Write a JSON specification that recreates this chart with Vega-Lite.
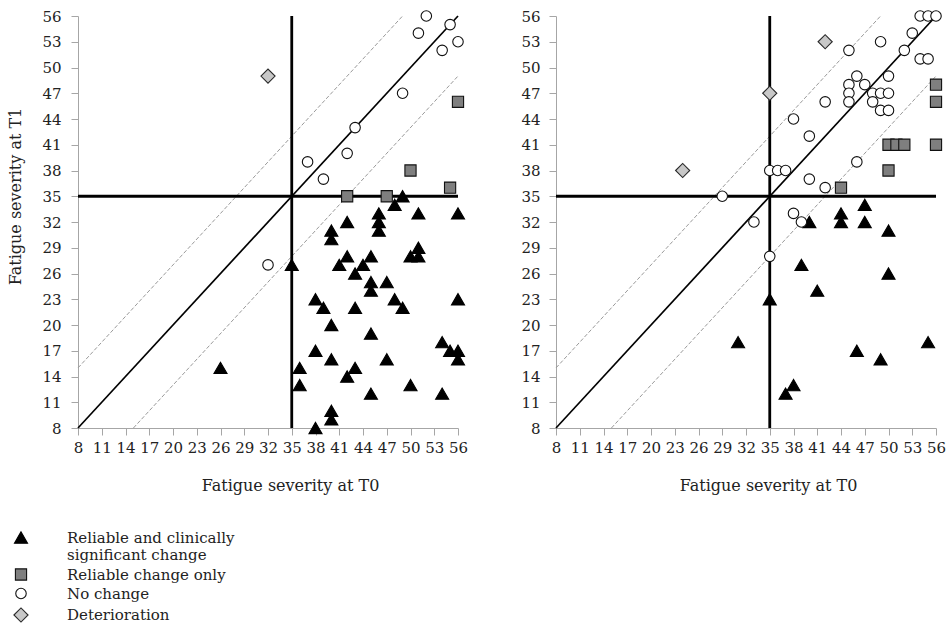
{
  "$schema": "https://vega.github.io/schema/vega-lite/v6.json",
  "background": "white",
  "padding": {"left": 7, "top": 8, "right": 8, "bottom": 4},
  "bounds": "flush",
  "spacing": 98,
  "datasets": {
    "guides": [
      {"guide": "band", "x": 8, "y": 15, "x2": 49, "y2": 56},
      {"guide": "band", "x": 15, "y": 8, "x2": 56, "y2": 49},
      {"guide": "identity", "x": 8, "y": 8, "x2": 56, "y2": 56},
      {"guide": "cutoff", "x": 35, "y": 8, "x2": 35, "y2": 56},
      {"guide": "cutoff", "x": 8, "y": 35, "x2": 56, "y2": 35}
    ],
    "scores": [
      {"cohort": "A", "t0": 26, "t1": 15, "outcome": "Reliable and clinically significant change"},
      {"cohort": "A", "t0": 35, "t1": 27, "outcome": "Reliable and clinically significant change"},
      {"cohort": "A", "t0": 36, "t1": 15, "outcome": "Reliable and clinically significant change"},
      {"cohort": "A", "t0": 36, "t1": 13, "outcome": "Reliable and clinically significant change"},
      {"cohort": "A", "t0": 38, "t1": 23, "outcome": "Reliable and clinically significant change"},
      {"cohort": "A", "t0": 38, "t1": 17, "outcome": "Reliable and clinically significant change"},
      {"cohort": "A", "t0": 38, "t1": 8, "outcome": "Reliable and clinically significant change"},
      {"cohort": "A", "t0": 39, "t1": 22, "outcome": "Reliable and clinically significant change"},
      {"cohort": "A", "t0": 40, "t1": 31, "outcome": "Reliable and clinically significant change"},
      {"cohort": "A", "t0": 40, "t1": 30, "outcome": "Reliable and clinically significant change"},
      {"cohort": "A", "t0": 40, "t1": 20, "outcome": "Reliable and clinically significant change"},
      {"cohort": "A", "t0": 40, "t1": 16, "outcome": "Reliable and clinically significant change"},
      {"cohort": "A", "t0": 40, "t1": 10, "outcome": "Reliable and clinically significant change"},
      {"cohort": "A", "t0": 40, "t1": 9, "outcome": "Reliable and clinically significant change"},
      {"cohort": "A", "t0": 41, "t1": 27, "outcome": "Reliable and clinically significant change"},
      {"cohort": "A", "t0": 42, "t1": 32, "outcome": "Reliable and clinically significant change"},
      {"cohort": "A", "t0": 42, "t1": 28, "outcome": "Reliable and clinically significant change"},
      {"cohort": "A", "t0": 42, "t1": 14, "outcome": "Reliable and clinically significant change"},
      {"cohort": "A", "t0": 43, "t1": 26, "outcome": "Reliable and clinically significant change"},
      {"cohort": "A", "t0": 43, "t1": 22, "outcome": "Reliable and clinically significant change"},
      {"cohort": "A", "t0": 43, "t1": 15, "outcome": "Reliable and clinically significant change"},
      {"cohort": "A", "t0": 44, "t1": 27, "outcome": "Reliable and clinically significant change"},
      {"cohort": "A", "t0": 45, "t1": 28, "outcome": "Reliable and clinically significant change"},
      {"cohort": "A", "t0": 45, "t1": 25, "outcome": "Reliable and clinically significant change"},
      {"cohort": "A", "t0": 45, "t1": 24, "outcome": "Reliable and clinically significant change"},
      {"cohort": "A", "t0": 45, "t1": 19, "outcome": "Reliable and clinically significant change"},
      {"cohort": "A", "t0": 45, "t1": 12, "outcome": "Reliable and clinically significant change"},
      {"cohort": "A", "t0": 46, "t1": 33, "outcome": "Reliable and clinically significant change"},
      {"cohort": "A", "t0": 46, "t1": 32, "outcome": "Reliable and clinically significant change"},
      {"cohort": "A", "t0": 46, "t1": 31, "outcome": "Reliable and clinically significant change"},
      {"cohort": "A", "t0": 47, "t1": 25, "outcome": "Reliable and clinically significant change"},
      {"cohort": "A", "t0": 47, "t1": 16, "outcome": "Reliable and clinically significant change"},
      {"cohort": "A", "t0": 48, "t1": 34, "outcome": "Reliable and clinically significant change"},
      {"cohort": "A", "t0": 48, "t1": 23, "outcome": "Reliable and clinically significant change"},
      {"cohort": "A", "t0": 49, "t1": 35, "outcome": "Reliable and clinically significant change"},
      {"cohort": "A", "t0": 49, "t1": 22, "outcome": "Reliable and clinically significant change"},
      {"cohort": "A", "t0": 50, "t1": 28, "outcome": "Reliable and clinically significant change"},
      {"cohort": "A", "t0": 50, "t1": 13, "outcome": "Reliable and clinically significant change"},
      {"cohort": "A", "t0": 51, "t1": 33, "outcome": "Reliable and clinically significant change"},
      {"cohort": "A", "t0": 51, "t1": 29, "outcome": "Reliable and clinically significant change"},
      {"cohort": "A", "t0": 51, "t1": 28, "outcome": "Reliable and clinically significant change"},
      {"cohort": "A", "t0": 54, "t1": 18, "outcome": "Reliable and clinically significant change"},
      {"cohort": "A", "t0": 54, "t1": 12, "outcome": "Reliable and clinically significant change"},
      {"cohort": "A", "t0": 55, "t1": 17, "outcome": "Reliable and clinically significant change"},
      {"cohort": "A", "t0": 56, "t1": 33, "outcome": "Reliable and clinically significant change"},
      {"cohort": "A", "t0": 56, "t1": 23, "outcome": "Reliable and clinically significant change"},
      {"cohort": "A", "t0": 56, "t1": 17, "outcome": "Reliable and clinically significant change"},
      {"cohort": "A", "t0": 56, "t1": 16, "outcome": "Reliable and clinically significant change"},
      {"cohort": "A", "t0": 42, "t1": 35, "outcome": "Reliable change only"},
      {"cohort": "A", "t0": 47, "t1": 35, "outcome": "Reliable change only"},
      {"cohort": "A", "t0": 50, "t1": 38, "outcome": "Reliable change only"},
      {"cohort": "A", "t0": 55, "t1": 36, "outcome": "Reliable change only"},
      {"cohort": "A", "t0": 56, "t1": 46, "outcome": "Reliable change only"},
      {"cohort": "A", "t0": 52, "t1": 56, "outcome": "No change"},
      {"cohort": "A", "t0": 51, "t1": 54, "outcome": "No change"},
      {"cohort": "A", "t0": 55, "t1": 55, "outcome": "No change"},
      {"cohort": "A", "t0": 56, "t1": 53, "outcome": "No change"},
      {"cohort": "A", "t0": 54, "t1": 52, "outcome": "No change"},
      {"cohort": "A", "t0": 49, "t1": 47, "outcome": "No change"},
      {"cohort": "A", "t0": 43, "t1": 43, "outcome": "No change"},
      {"cohort": "A", "t0": 42, "t1": 40, "outcome": "No change"},
      {"cohort": "A", "t0": 37, "t1": 39, "outcome": "No change"},
      {"cohort": "A", "t0": 39, "t1": 37, "outcome": "No change"},
      {"cohort": "A", "t0": 32, "t1": 27, "outcome": "No change"},
      {"cohort": "A", "t0": 32, "t1": 49, "outcome": "Deterioration"},
      {"cohort": "B", "t0": 47, "t1": 34, "outcome": "Reliable and clinically significant change"},
      {"cohort": "B", "t0": 44, "t1": 33, "outcome": "Reliable and clinically significant change"},
      {"cohort": "B", "t0": 44, "t1": 32, "outcome": "Reliable and clinically significant change"},
      {"cohort": "B", "t0": 40, "t1": 32, "outcome": "Reliable and clinically significant change"},
      {"cohort": "B", "t0": 47, "t1": 32, "outcome": "Reliable and clinically significant change"},
      {"cohort": "B", "t0": 50, "t1": 31, "outcome": "Reliable and clinically significant change"},
      {"cohort": "B", "t0": 39, "t1": 27, "outcome": "Reliable and clinically significant change"},
      {"cohort": "B", "t0": 50, "t1": 26, "outcome": "Reliable and clinically significant change"},
      {"cohort": "B", "t0": 41, "t1": 24, "outcome": "Reliable and clinically significant change"},
      {"cohort": "B", "t0": 35, "t1": 23, "outcome": "Reliable and clinically significant change"},
      {"cohort": "B", "t0": 31, "t1": 18, "outcome": "Reliable and clinically significant change"},
      {"cohort": "B", "t0": 46, "t1": 17, "outcome": "Reliable and clinically significant change"},
      {"cohort": "B", "t0": 49, "t1": 16, "outcome": "Reliable and clinically significant change"},
      {"cohort": "B", "t0": 55, "t1": 18, "outcome": "Reliable and clinically significant change"},
      {"cohort": "B", "t0": 38, "t1": 13, "outcome": "Reliable and clinically significant change"},
      {"cohort": "B", "t0": 37, "t1": 12, "outcome": "Reliable and clinically significant change"},
      {"cohort": "B", "t0": 56, "t1": 48, "outcome": "Reliable change only"},
      {"cohort": "B", "t0": 56, "t1": 46, "outcome": "Reliable change only"},
      {"cohort": "B", "t0": 50, "t1": 41, "outcome": "Reliable change only"},
      {"cohort": "B", "t0": 51, "t1": 41, "outcome": "Reliable change only"},
      {"cohort": "B", "t0": 52, "t1": 41, "outcome": "Reliable change only"},
      {"cohort": "B", "t0": 56, "t1": 41, "outcome": "Reliable change only"},
      {"cohort": "B", "t0": 50, "t1": 38, "outcome": "Reliable change only"},
      {"cohort": "B", "t0": 44, "t1": 36, "outcome": "Reliable change only"},
      {"cohort": "B", "t0": 54, "t1": 56, "outcome": "No change"},
      {"cohort": "B", "t0": 55, "t1": 56, "outcome": "No change"},
      {"cohort": "B", "t0": 56, "t1": 56, "outcome": "No change"},
      {"cohort": "B", "t0": 53, "t1": 54, "outcome": "No change"},
      {"cohort": "B", "t0": 49, "t1": 53, "outcome": "No change"},
      {"cohort": "B", "t0": 52, "t1": 52, "outcome": "No change"},
      {"cohort": "B", "t0": 45, "t1": 52, "outcome": "No change"},
      {"cohort": "B", "t0": 54, "t1": 51, "outcome": "No change"},
      {"cohort": "B", "t0": 55, "t1": 51, "outcome": "No change"},
      {"cohort": "B", "t0": 50, "t1": 49, "outcome": "No change"},
      {"cohort": "B", "t0": 46, "t1": 49, "outcome": "No change"},
      {"cohort": "B", "t0": 45, "t1": 48, "outcome": "No change"},
      {"cohort": "B", "t0": 47, "t1": 48, "outcome": "No change"},
      {"cohort": "B", "t0": 45, "t1": 47, "outcome": "No change"},
      {"cohort": "B", "t0": 48, "t1": 47, "outcome": "No change"},
      {"cohort": "B", "t0": 49, "t1": 47, "outcome": "No change"},
      {"cohort": "B", "t0": 50, "t1": 47, "outcome": "No change"},
      {"cohort": "B", "t0": 45, "t1": 46, "outcome": "No change"},
      {"cohort": "B", "t0": 48, "t1": 46, "outcome": "No change"},
      {"cohort": "B", "t0": 49, "t1": 45, "outcome": "No change"},
      {"cohort": "B", "t0": 50, "t1": 45, "outcome": "No change"},
      {"cohort": "B", "t0": 42, "t1": 46, "outcome": "No change"},
      {"cohort": "B", "t0": 38, "t1": 44, "outcome": "No change"},
      {"cohort": "B", "t0": 40, "t1": 42, "outcome": "No change"},
      {"cohort": "B", "t0": 46, "t1": 39, "outcome": "No change"},
      {"cohort": "B", "t0": 35, "t1": 38, "outcome": "No change"},
      {"cohort": "B", "t0": 36, "t1": 38, "outcome": "No change"},
      {"cohort": "B", "t0": 37, "t1": 38, "outcome": "No change"},
      {"cohort": "B", "t0": 40, "t1": 37, "outcome": "No change"},
      {"cohort": "B", "t0": 42, "t1": 36, "outcome": "No change"},
      {"cohort": "B", "t0": 29, "t1": 35, "outcome": "No change"},
      {"cohort": "B", "t0": 38, "t1": 33, "outcome": "No change"},
      {"cohort": "B", "t0": 33, "t1": 32, "outcome": "No change"},
      {"cohort": "B", "t0": 39, "t1": 32, "outcome": "No change"},
      {"cohort": "B", "t0": 35, "t1": 28, "outcome": "No change"},
      {"cohort": "B", "t0": 24, "t1": 38, "outcome": "Deterioration"},
      {"cohort": "B", "t0": 35, "t1": 47, "outcome": "Deterioration"},
      {"cohort": "B", "t0": 42, "t1": 53, "outcome": "Deterioration"}
    ]
  },
  "resolve": {"scale": {"shape": "shared", "fill": "shared", "size": "shared", "stroke": "shared"}, "legend": {"shape": "shared", "fill": "shared", "size": "shared", "stroke": "shared"}},
  "hconcat": [
    {
      "width": 380,
      "height": 412,
      "layer": [
        {
          "data": {"name": "guides"},
          "transform": [{"filter": "datum.guide == 'band'"}],
          "mark": {"type": "rule", "color": "#9a9a9a", "strokeWidth": 1, "strokeDash": [4, 2]},
          "encoding": {
            "x": {"field": "x", "type": "quantitative", "title": "Fatigue severity at T0", "scale": {"domain": [8, 56], "nice": false, "zero": false},
                  "axis": {"values": [8, 11, 14, 17, 20, 23, 26, 29, 32, 35, 38, 41, 44, 47, 50, 53, 56], "labelPadding": 5, "titlePadding": 22, "titleX": 212}},
            "y": {"field": "y", "type": "quantitative", "title": "Fatigue severity at T1", "scale": {"domain": [8, 56], "nice": false, "zero": false},
                  "axis": {"values": [8, 11, 14, 17, 20, 23, 26, 29, 32, 35, 38, 41, 44, 47, 50, 53, 56], "labelPadding": 10, "titlePadding": 18, "titleY": 180}},
            "x2": {"field": "x2"},
            "y2": {"field": "y2"}
          }
        },
        {
          "data": {"name": "guides"},
          "transform": [{"filter": "datum.guide == 'identity'"}],
          "mark": {"type": "rule", "color": "#000000", "strokeWidth": 1.7},
          "encoding": {
            "x": {"field": "x", "type": "quantitative", "title": "Fatigue severity at T0",
                  "axis": {"values": [8, 11, 14, 17, 20, 23, 26, 29, 32, 35, 38, 41, 44, 47, 50, 53, 56], "labelPadding": 5, "titlePadding": 22, "titleX": 212}},
            "y": {"field": "y", "type": "quantitative", "title": "Fatigue severity at T1",
                  "axis": {"values": [8, 11, 14, 17, 20, 23, 26, 29, 32, 35, 38, 41, 44, 47, 50, 53, 56], "labelPadding": 10, "titlePadding": 18, "titleY": 180}},
            "x2": {"field": "x2"},
            "y2": {"field": "y2"}
          }
        },
        {
          "data": {"name": "guides"},
          "transform": [{"filter": "datum.guide == 'cutoff'"}],
          "mark": {"type": "rule", "color": "#000000", "strokeWidth": 2.8},
          "encoding": {
            "x": {"field": "x", "type": "quantitative", "title": "Fatigue severity at T0",
                  "axis": {"values": [8, 11, 14, 17, 20, 23, 26, 29, 32, 35, 38, 41, 44, 47, 50, 53, 56], "labelPadding": 5, "titlePadding": 22, "titleX": 212}},
            "y": {"field": "y", "type": "quantitative", "title": "Fatigue severity at T1",
                  "axis": {"values": [8, 11, 14, 17, 20, 23, 26, 29, 32, 35, 38, 41, 44, 47, 50, 53, 56], "labelPadding": 10, "titlePadding": 18, "titleY": 180}},
            "x2": {"field": "x2"},
            "y2": {"field": "y2"}
          }
        },
        {
          "data": {"name": "scores"},
          "transform": [{"filter": "datum.cohort == 'A'"}],
          "mark": {"type": "point", "filled": true, "strokeWidth": 1.1, "opacity": 1},
          "encoding": {
            "x": {"field": "t0", "type": "quantitative", "title": "Fatigue severity at T0",
                  "axis": {"values": [8, 11, 14, 17, 20, 23, 26, 29, 32, 35, 38, 41, 44, 47, 50, 53, 56], "labelPadding": 5, "titlePadding": 22, "titleX": 212}},
            "y": {"field": "t1", "type": "quantitative", "title": "Fatigue severity at T1",
                  "axis": {"values": [8, 11, 14, 17, 20, 23, 26, 29, 32, 35, 38, 41, 44, 47, 50, 53, 56], "labelPadding": 10, "titlePadding": 18, "titleY": 180}},
            "shape": {"field": "outcome", "type": "nominal", "title": null,
                      "scale": {"domain": ["Reliable and clinically significant change", "Reliable change only", "No change", "Deterioration"], "range": ["triangle-up", "square", "circle", "diamond"]},
                      "legend": {"labelExpr": "datum.label == 'Reliable and clinically significant change' ? ['Reliable and clinically', 'significant change'] : datum.label"}},
            "fill": {"field": "outcome", "type": "nominal", "title": null,
                     "scale": {"domain": ["Reliable and clinically significant change", "Reliable change only", "No change", "Deterioration"], "range": ["#000000", "#7f7f7f", "#ffffff", "#c8c8c8"]},
                     "legend": {"labelExpr": "datum.label == 'Reliable and clinically significant change' ? ['Reliable and clinically', 'significant change'] : datum.label"}},
            "stroke": {"field": "outcome", "type": "nominal", "title": null,
                       "scale": {"domain": ["Reliable and clinically significant change", "Reliable change only", "No change", "Deterioration"], "range": ["#000000", "#111111", "#111111", "#2a2a2a"]},
                       "legend": {"labelExpr": "datum.label == 'Reliable and clinically significant change' ? ['Reliable and clinically', 'significant change'] : datum.label"}},
            "size": {"field": "outcome", "type": "nominal", "title": null,
                     "scale": {"type": "ordinal", "domain": ["Reliable and clinically significant change", "Reliable change only", "No change", "Deterioration"], "range": [170, 125, 110, 200]},
                     "legend": {"labelExpr": "datum.label == 'Reliable and clinically significant change' ? ['Reliable and clinically', 'significant change'] : datum.label"}}
          }
        }
      ]
    },
    {
      "width": 380,
      "height": 412,
      "layer": [
        {
          "data": {"name": "guides"},
          "transform": [{"filter": "datum.guide == 'band'"}],
          "mark": {"type": "rule", "color": "#9a9a9a", "strokeWidth": 1, "strokeDash": [4, 2]},
          "encoding": {
            "x": {"field": "x", "type": "quantitative", "title": "Fatigue severity at T0", "scale": {"domain": [8, 56], "nice": false, "zero": false},
                  "axis": {"values": [8, 11, 14, 17, 20, 23, 26, 29, 32, 35, 38, 41, 44, 47, 50, 53, 56], "labelPadding": 5, "titlePadding": 22, "titleX": 212}},
            "y": {"field": "y", "type": "quantitative", "title": null, "scale": {"domain": [8, 56], "nice": false, "zero": false},
                  "axis": {"values": [8, 11, 14, 17, 20, 23, 26, 29, 32, 35, 38, 41, 44, 47, 50, 53, 56], "labelPadding": 9}},
            "x2": {"field": "x2"},
            "y2": {"field": "y2"}
          }
        },
        {
          "data": {"name": "guides"},
          "transform": [{"filter": "datum.guide == 'identity'"}],
          "mark": {"type": "rule", "color": "#000000", "strokeWidth": 1.7},
          "encoding": {
            "x": {"field": "x", "type": "quantitative", "title": "Fatigue severity at T0",
                  "axis": {"values": [8, 11, 14, 17, 20, 23, 26, 29, 32, 35, 38, 41, 44, 47, 50, 53, 56], "labelPadding": 5, "titlePadding": 22, "titleX": 212}},
            "y": {"field": "y", "type": "quantitative", "title": null,
                  "axis": {"values": [8, 11, 14, 17, 20, 23, 26, 29, 32, 35, 38, 41, 44, 47, 50, 53, 56], "labelPadding": 9}},
            "x2": {"field": "x2"},
            "y2": {"field": "y2"}
          }
        },
        {
          "data": {"name": "guides"},
          "transform": [{"filter": "datum.guide == 'cutoff'"}],
          "mark": {"type": "rule", "color": "#000000", "strokeWidth": 2.8},
          "encoding": {
            "x": {"field": "x", "type": "quantitative", "title": "Fatigue severity at T0",
                  "axis": {"values": [8, 11, 14, 17, 20, 23, 26, 29, 32, 35, 38, 41, 44, 47, 50, 53, 56], "labelPadding": 5, "titlePadding": 22, "titleX": 212}},
            "y": {"field": "y", "type": "quantitative", "title": null,
                  "axis": {"values": [8, 11, 14, 17, 20, 23, 26, 29, 32, 35, 38, 41, 44, 47, 50, 53, 56], "labelPadding": 9}},
            "x2": {"field": "x2"},
            "y2": {"field": "y2"}
          }
        },
        {
          "data": {"name": "scores"},
          "transform": [{"filter": "datum.cohort == 'B'"}],
          "mark": {"type": "point", "filled": true, "strokeWidth": 1.1, "opacity": 1},
          "encoding": {
            "x": {"field": "t0", "type": "quantitative", "title": "Fatigue severity at T0",
                  "axis": {"values": [8, 11, 14, 17, 20, 23, 26, 29, 32, 35, 38, 41, 44, 47, 50, 53, 56], "labelPadding": 5, "titlePadding": 22, "titleX": 212}},
            "y": {"field": "t1", "type": "quantitative", "title": null,
                  "axis": {"values": [8, 11, 14, 17, 20, 23, 26, 29, 32, 35, 38, 41, 44, 47, 50, 53, 56], "labelPadding": 9}},
            "shape": {"field": "outcome", "type": "nominal", "title": null,
                      "scale": {"domain": ["Reliable and clinically significant change", "Reliable change only", "No change", "Deterioration"], "range": ["triangle-up", "square", "circle", "diamond"]},
                      "legend": {"labelExpr": "datum.label == 'Reliable and clinically significant change' ? ['Reliable and clinically', 'significant change'] : datum.label"}},
            "fill": {"field": "outcome", "type": "nominal", "title": null,
                     "scale": {"domain": ["Reliable and clinically significant change", "Reliable change only", "No change", "Deterioration"], "range": ["#000000", "#7f7f7f", "#ffffff", "#c8c8c8"]},
                     "legend": {"labelExpr": "datum.label == 'Reliable and clinically significant change' ? ['Reliable and clinically', 'significant change'] : datum.label"}},
            "stroke": {"field": "outcome", "type": "nominal", "title": null,
                       "scale": {"domain": ["Reliable and clinically significant change", "Reliable change only", "No change", "Deterioration"], "range": ["#000000", "#111111", "#111111", "#2a2a2a"]},
                       "legend": {"labelExpr": "datum.label == 'Reliable and clinically significant change' ? ['Reliable and clinically', 'significant change'] : datum.label"}},
            "size": {"field": "outcome", "type": "nominal", "title": null,
                     "scale": {"type": "ordinal", "domain": ["Reliable and clinically significant change", "Reliable change only", "No change", "Deterioration"], "range": [170, 125, 110, 200]},
                     "legend": {"labelExpr": "datum.label == 'Reliable and clinically significant change' ? ['Reliable and clinically', 'significant change'] : datum.label"}}
          }
        }
      ]
    }
  ],
  "config": {
    "view": {"stroke": null},
    "font": "DejaVu Serif",
    "axis": {
      "grid": false,
      "domainColor": "#a6a6a6",
      "tickColor": "#a6a6a6",
      "tickSize": 7,
      "labelFont": "DejaVu Serif",
      "labelFontSize": 15,
      "labelColor": "#222222",
      "labelOverlap": false,
      "labelFlush": false,
      "titleFont": "DejaVu Serif",
      "titleFontSize": 16,
      "titleFontWeight": "normal",
      "titleColor": "#222222"
    },
    "legend": {
      "orient": "none",
      "legendX": -65,
      "legendY": 514,
      "padding": 0,
      "rowPadding": 3,
      "labelFont": "DejaVu Serif",
      "labelFontSize": 15,
      "labelColor": "#222222",
      "labelOffset": 38,
      "labelLimit": 400,
      "symbolStrokeWidth": 1.1
    }
  }
}
